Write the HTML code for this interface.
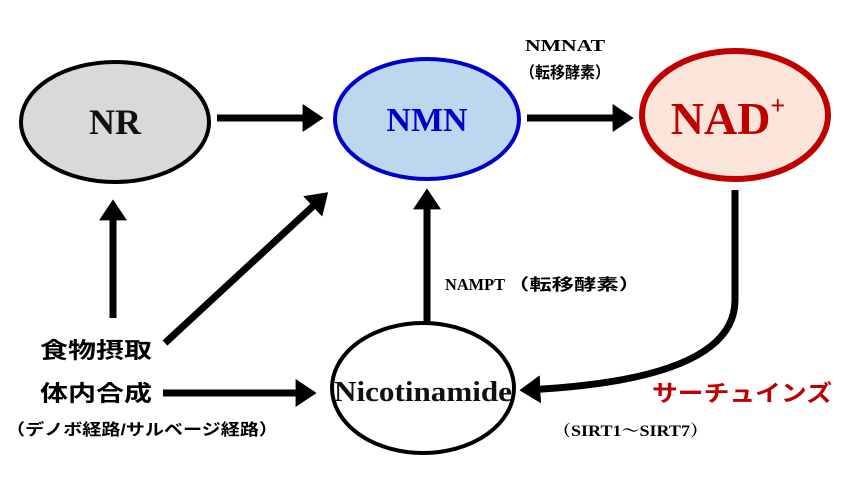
<!DOCTYPE html>
<html><head><meta charset="utf-8"><style>
html,body{margin:0;padding:0;background:#fff;}
svg{display:block;}
.s{font-family:"Liberation Serif","Noto Serif CJK SC",serif;font-weight:bold;}
.j{font-family:"Liberation Sans","Noto Sans CJK JP",sans-serif;font-weight:bold;}
</style></head><body>
<svg width="856" height="483" viewBox="0 0 856 483" xmlns="http://www.w3.org/2000/svg">
<defs>
<marker id="a" markerWidth="4" markerHeight="4" refX="2.2" refY="2" orient="auto" markerUnits="strokeWidth">
<path d="M0,0 L3,2 L0,4 Z" fill="#000"/></marker>
</defs>
<ellipse cx="115" cy="122" rx="94" ry="60" fill="#d9d9d9" stroke="#000" stroke-width="4"/>
<ellipse cx="427" cy="119" rx="92" ry="60" fill="#bdd7ee" stroke="#0000cc" stroke-width="4"/>
<ellipse cx="735" cy="115" rx="93" ry="64" fill="#fbe4d9" stroke="#c00000" stroke-width="6"/>
<ellipse cx="423" cy="388" rx="91" ry="65" fill="#fff" stroke="#000" stroke-width="4"/>
<text x="115" y="134" class="s" font-size="36" text-anchor="middle" fill="#111">NR</text>
<text x="427" y="131" class="s" font-size="34" text-anchor="middle" fill="#0000cc">NMN</text>
<text x="728" y="134" class="s" font-size="46" text-anchor="middle" fill="#c00000">NAD<tspan font-size="26" dy="-20">+</tspan></text>
<text x="423" y="401" class="s" font-size="28" text-anchor="middle" fill="#111" textLength="178" lengthAdjust="spacingAndGlyphs">Nicotinamide</text>
<g stroke="#000" stroke-width="7" fill="none" marker-end="url(#a)">
<line x1="217" y1="118" x2="318" y2="118"/>
<line x1="527" y1="118" x2="628" y2="118"/>
<line x1="113" y1="318" x2="113" y2="205"/>
<line x1="165" y1="343" x2="324" y2="196"/>
<line x1="427" y1="323" x2="427" y2="194"/>
<line x1="163" y1="393" x2="311" y2="393"/>
<path d="M735,190 L735,300 Q735,380 525,390"/>
</g>
<text x="525" y="51" class="s" font-size="17" font-weight="normal" textLength="80" lengthAdjust="spacingAndGlyphs">NMNAT</text>
<text x="520" y="78" class="j" font-size="16" textLength="90" lengthAdjust="spacingAndGlyphs">（転移酵素）</text>
<text x="445" y="290" class="s" font-size="17" font-weight="normal" textLength="60" lengthAdjust="spacingAndGlyphs">NAMPT</text>
<text x="507" y="290" class="j" font-size="16" textLength="134" lengthAdjust="spacingAndGlyphs">（転移酵素）</text>
<text x="40" y="358" class="j" font-size="22" textLength="112" lengthAdjust="spacingAndGlyphs">食物摂取</text>
<text x="40" y="401" class="j" font-size="22" textLength="112" lengthAdjust="spacingAndGlyphs">体内合成</text>
<text x="6" y="435" class="j" font-size="16" textLength="272" lengthAdjust="spacingAndGlyphs">（デノボ経路/サルベージ経路）</text>
<text x="652" y="401" class="j" font-size="23" fill="#c00000" textLength="180" lengthAdjust="spacingAndGlyphs">サーチュインズ</text>
<text x="553" y="436" class="s" font-size="16" font-weight="normal" textLength="155" lengthAdjust="spacingAndGlyphs">（SIRT1～SIRT7）</text>
</svg>
</body></html>
